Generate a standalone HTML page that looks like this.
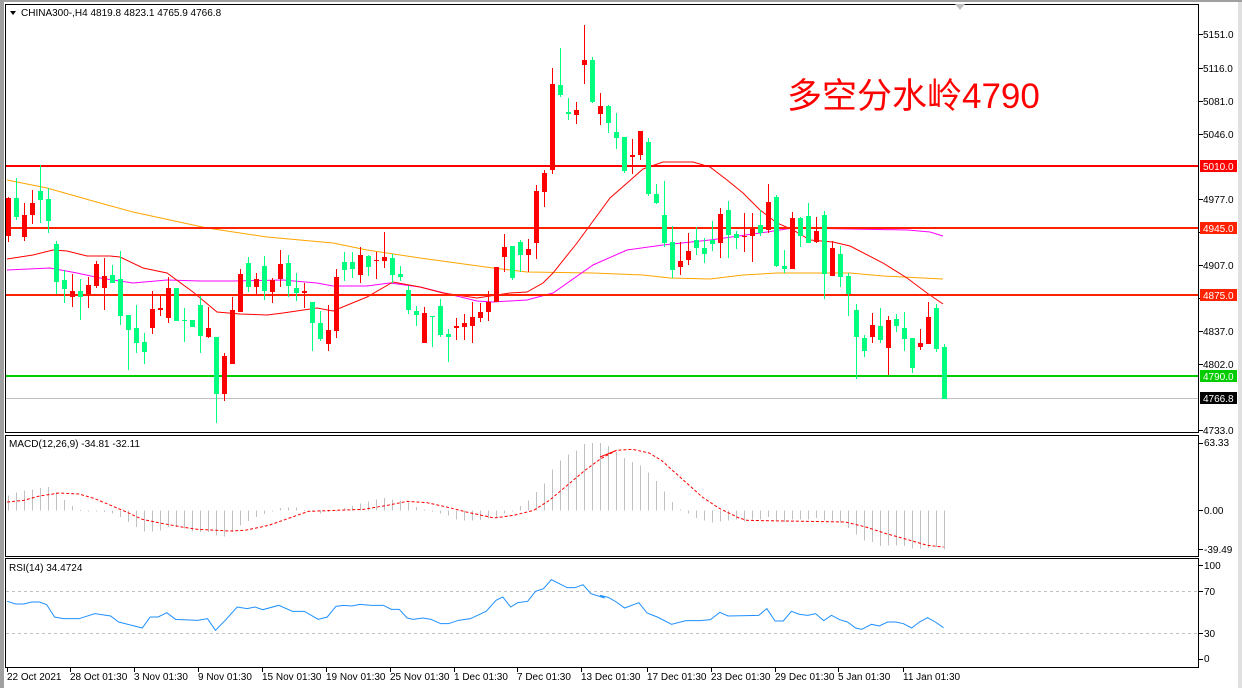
<!DOCTYPE html>
<html><head><meta charset="utf-8">
<style>
html,body{margin:0;padding:0;background:#fff;}
svg{display:block;}
text{font-family:"Liberation Sans","Noto Sans CJK SC",sans-serif;font-size:10px;fill:#000;}
</style></head>
<body>
<svg id="s" width="1242" height="688" viewBox="0 0 1242 688" xmlns="http://www.w3.org/2000/svg">
<rect x="0" y="0" width="1242" height="688" fill="#fff"/>
<rect x="0" y="0" width="4" height="688" fill="#a0a0a0"/>
<rect x="1238" y="0" width="4" height="688" fill="#e0e0e0"/>
<rect x="0" y="0" width="1242" height="2" fill="#a0a0a0"/>
<g id="main"></g>
<rect x="5.5" y="4.5" width="1193" height="428" fill="none" stroke="#000"/>
<rect x="5.5" y="435.5" width="1193" height="121" fill="none" stroke="#000"/>
<rect x="5.5" y="558.5" width="1193" height="109" fill="none" stroke="#000"/>
<polygon points="955,4 965,4 960,10" fill="#c0c0c0"/>
<polygon points="10,11 16,11 13,15" fill="#000"/>
<text x="21" y="16">CHINA300-,H4  4819.8 4823.1 4765.9 4766.8</text>
<text x="9" y="447">MACD(12,26,9) -34.81 -32.11</text>
<text x="9" y="571">RSI(14) 34.4724</text>
<text x="787" y="108" style="font-size:35px;fill:#ff0000">多空分水岭4790</text>
<g id="axis"></g>
<g>
<text x="7" y="680">22 Oct 2021</text>
<text x="70" y="680">28 Oct 01:30</text>
<text x="134" y="680">3 Nov 01:30</text>
<text x="198" y="680">9 Nov 01:30</text>
<text x="262" y="680">15 Nov 01:30</text>
<text x="326" y="680">19 Nov 01:30</text>
<text x="390" y="680">25 Nov 01:30</text>
<text x="454" y="680">1 Dec 01:30</text>
<text x="517" y="680">7 Dec 01:30</text>
<text x="581" y="680">13 Dec 01:30</text>
<text x="647" y="680">17 Dec 01:30</text>
<text x="711" y="680">23 Dec 01:30</text>
<text x="775" y="680">29 Dec 01:30</text>
<text x="838" y="680">5 Jan 01:30</text>
<text x="903" y="680">11 Jan 01:30</text>
</g>
<g id="ticks"></g>
<text x="1204" y="446">63.33</text>
<text x="1204" y="514">0.00</text>
<text x="1204" y="553">-39.49</text>
<text x="1204" y="569">100</text>
<text x="1204" y="595">70</text>
<text x="1204" y="637">30</text>
<text x="1204" y="662">0</text>
<rect x="1200" y="160" width="37" height="12" fill="#ff0000"/>
<text x="1203" y="170" style="fill:#fff">5010.0</text>
<rect x="1200" y="222" width="37" height="12" fill="#ff2200"/>
<text x="1203" y="232" style="fill:#fff">4945.0</text>
<rect x="1200" y="289" width="37" height="12" fill="#ff2200"/>
<text x="1203" y="299" style="fill:#fff">4875.0</text>
<rect x="1200" y="370" width="37" height="12" fill="#00cc00"/>
<text x="1203" y="380" style="fill:#fff">4790.0</text>
<rect x="1200" y="392" width="37" height="12" fill="#000"/>
<text x="1203" y="402" style="fill:#fff">4766.8</text>
<text x="1203" y="38">5151.0</text>
<text x="1203" y="72">5116.0</text>
<text x="1203" y="105">5081.0</text>
<text x="1203" y="138">5046.0</text>
<text x="1203" y="203">4977.0</text>
<text x="1203" y="269">4907.0</text>
<text x="1203" y="335">4837.0</text>
<text x="1203" y="368">4802.0</text>
<text x="1203" y="434">4733.0</text>
</svg>
<script>
var NS="http://www.w3.org/2000/svg";
function el(p,t,a){var e=document.createElementNS(NS,t);for(var k in a)e.setAttribute(k,a[k]);p.appendChild(e);return e;}
var g=document.getElementById("main");
var ax=document.getElementById("axis");
[34,68,101,134,199,232,265,298,331,364,430].forEach(function(y){el(ax,"line",{x1:1199,x2:1203,y1:y+0.5,y2:y+0.5,stroke:"#000"});});
[443,510,549].forEach(function(y){el(ax,"line",{x1:1199,x2:1203,y1:y+0.5,y2:y+0.5,stroke:"#000"});});
[565,591,633,659].forEach(function(y){el(ax,"line",{x1:1199,x2:1203,y1:y+0.5,y2:y+0.5,stroke:"#000"});});
var tk=document.getElementById("ticks");
[7,70,134,198,262,326,390,454,517,581,647,711,775,838,903].forEach(function(x){el(tk,"line",{x1:x+0.5,x2:x+0.5,y1:668,y2:672,stroke:"#000"});});
function pl(pts,st,w,da){el(g,"polyline",{points:pts.map(function(p){return p[0]+","+p[1]}).join(" "),fill:"none",stroke:st,"stroke-width":w||1,"stroke-dasharray":da||"none"});}
el(g,"line",{x1:6,x2:1198,y1:398.5,y2:398.5,stroke:"#c0c0c0"});
pl([[7,180],[47,188],[100,203],[133,212],[207,228],[267,237],[333,243],[367,250],[420,258],[493,268],[527,272],[593,273],[643,275],[670,278],[710,279],[743,275],[777,273],[830,273],[850,273],[883,276],[923,278],[943,279]],"#ffa500");
pl([[7,270],[50,268],[77,273],[100,278],[133,283],[167,280],[200,281],[233,281],[283,280],[317,283],[333,286],[367,286],[390,283],[420,287],[477,301],[493,302],[527,300],[553,293],[593,265],[627,250],[663,245],[710,240],[760,233],[793,228],[850,229],[908,230],[930,232],[943,236]],"#ff00ff");
pl([[7,259],[33,255],[53,250],[67,251],[87,256],[110,256],[120,257],[143,268],[167,273],[193,292],[217,312],[240,314],[267,315],[283,313],[317,308],[333,311],[367,297],[393,282],[420,287],[443,293],[477,298],[510,293],[527,292],[543,283],[553,273],[577,243],[610,198],[643,169],[663,162],[693,162],[710,167],[727,180],[743,193],[760,210],[777,223],[793,230],[810,240],[833,242],[850,246],[883,263],[907,278],[927,293],[943,304]],"#ff0000");
el(g,"rect",{x:6,y:165,width:1193,height:2,fill:"#ff0000"});
el(g,"rect",{x:6,y:227,width:1193,height:2,fill:"#ff2200"});
el(g,"rect",{x:6,y:294,width:1193,height:2,fill:"#ff2200"});
el(g,"rect",{x:6,y:375,width:1193,height:2,fill:"#00cc00"});
var C=[[1,197,198,236,242],[0,178,198,217,220],[1,203,215,237,241],[1,190,203,215,224],[0,165,191,200,223],[0,188,199,221,233],
[0,241,244,282,294],[0,270,280,289,303],[1,274,291,297,307],[0,279,291,297,320],[1,277,285,294,308],[1,261,264,286,288],
[1,258,276,288,310],[0,265,275,283,283],[0,251,279,316,325],[0,315,315,330,370],[0,305,328,343,353],[0,333,342,352,364],
[1,291,309,328,334],[1,296,308,310,316],[1,277,288,318,323],[0,288,288,321,321],[0,308,320,321,342],[0,320,320,327,327],
[0,296,305,336,353],[1,307,328,337,338],[0,337,337,394,423],[1,353,356,394,401],[1,297,310,364,364],[1,269,274,312,312],
[0,257,263,287,292],[1,273,279,287,294],[0,256,266,291,300],[1,278,280,292,303],[1,250,264,279,287],[0,255,263,286,297],
[0,273,288,293,301],[1,283,291,293,308],[0,302,302,323,351],[0,311,323,339,341],[1,305,330,344,351],[1,269,277,331,338],
[0,252,262,270,281],[0,252,262,269,278],[1,247,255,275,283],[0,255,256,267,276],[1,252,260,261,279],[1,232,257,261,268],
[0,254,258,275,283],[0,266,274,277,281],[0,286,290,310,314],[0,306,311,315,326],[1,307,313,343,343],[0,316,316,317,347],
[0,299,306,335,337],[0,329,334,337,362],[1,318,326,328,340],[1,314,323,327,340],[1,302,317,326,343],[1,303,312,318,322],
[1,291,302,312,321],[1,267,267,302,302],[1,234,247,257,272],[0,246,246,278,280],[0,240,242,255,272],[1,239,249,255,272],
[1,185,191,243,259],[1,170,173,192,207],[1,68,84,170,174],[0,48,85,95,97],[0,98,112,114,120],[1,102,110,115,124],
[1,25,60,65,84],[0,57,60,102,103],[1,93,106,114,125],[0,105,106,123,133],[0,113,132,138,149],[0,137,137,171,173],
[1,139,155,157,174],[1,131,131,155,160],[0,138,142,194,196],[0,184,194,203,204],[0,181,215,243,247],[0,226,242,270,278],
[1,242,261,267,275],[1,233,251,260,265],[0,227,240,248,255],[0,238,248,254,263],[0,221,240,244,251],[1,208,214,243,258],
[0,201,210,235,258],[0,231,234,238,249],[1,213,236,237,252],[1,213,229,236,262],[0,210,225,233,236],[1,184,202,230,233],
[0,195,197,266,267],[0,250,266,269,273],[1,212,218,269,269],[0,217,218,236,247],[0,203,216,243,243],[1,217,231,242,243],
[0,211,215,274,299],[1,241,248,276,276],[0,246,254,277,287],[0,273,276,294,316],[0,304,310,337,379],[0,335,338,351,357],
[1,313,325,337,343],[0,308,326,340,343],[1,316,320,348,375],[0,314,319,326,332],[0,312,328,339,351],[0,338,338,368,373],
[1,329,343,347,350],[1,302,317,344,344],[0,304,308,349,352],[0,344,347,399,399]];
var cg=el(g,"g",{"shape-rendering":"crispEdges"});
C.forEach(function(c,i){var x=8+8*i;var col=c[0]?"#ff0000":"#00ff7f";
el(cg,"rect",{x:x,y:c[1],width:1,height:Math.max(1,c[4]-c[1]),fill:col});
el(cg,"rect",{x:x-2,y:c[2],width:5,height:Math.max(1,c[3]-c[2]),fill:col});});
var H=[190,182,176,172,168,165,180,204,222,234,236,238,240,245,255,270,285,298,298,295,285,285,290,298,300,300,310,314,300,280,267,255,246,238,228,226,226,234,236,244,240,236,228,222,214,208,203,198,202,205,212,225,232,236,244,250,262,265,265,264,260,255,245,235,222,205,180,155,112,85,68,55,36,33,33,
42,60,78,90,100,122,147,178,210,232,245,258,265,272,268,265,262,268,262,262,255,264,270,262,262,262,258,265,266,272,288,308,326,330,342,340,340,342,350,350,348,345,352];
var z=510.7;
var hg=el(g,"g",{"shape-rendering":"crispEdges"});
H.forEach(function(v,i){var x=8+8*i;var y=432+v/3;var t=Math.min(y,z),b=Math.max(y,z);
el(hg,"rect",{x:x,y:t,width:1,height:Math.max(1,b-t),fill:"#c0c0c0"});});
var S4=[[18,210],[60,205],[100,192],[150,183],[200,186],[240,200],[280,220],[320,240],[360,262],[400,272],[460,285],[500,292],[580,297],[620,295],[680,280],[740,255],[780,238],[850,235],[920,232],[980,220],[1030,208],[1080,212],[1130,225],[1180,240],[1250,258],[1300,250],[1350,235],[1390,205],[1430,165],[1480,115],[1520,80],[1560,55]].map(function(p){return [p[0]/2.53,432+p[1]/3]});
var S5=[[0,75],[40,55],[80,52],[120,63],[150,85],[200,140],[250,195],[290,228],[340,258],[360,265],[600,270],[650,285],[700,305],[750,322],[800,340],[840,345]].map(function(p){return [600+p[0]/2.445,432+p[1]/3]});
pl(S4.concat(S5),"#ff0000",1,"3,2");
el(g,"line",{x1:6,x2:1198,y1:591.5,y2:591.5,stroke:"#c0c0c0","stroke-dasharray":"3,3"});
el(g,"line",{x1:6,x2:1198,y1:633.5,y2:633.5,stroke:"#c0c0c0","stroke-dasharray":"3,3"});
var R4=[[18,508],[40,516],[60,516],[80,510],[100,510],[118,518],[138,555],[160,560],[200,560],[240,545],[280,552],[300,570],[340,582],[360,588],[380,555],[400,555],[422,542],[444,562],[500,565],[525,560],[545,595],[570,565],[600,525],[625,530],[645,525],[665,533],[705,520],[740,538],[770,538],[805,562],[828,555],[850,523],[870,520],[890,522],[910,517],[940,520],[970,520],[990,532],[1010,532],[1030,558],[1045,562],[1070,558],[1090,562],[1115,575],[1135,575],[1160,565],[1190,560],[1230,538],[1255,505],[1272,495],[1292,525],[1310,512],[1335,508],[1355,478],[1375,470],[1395,443],[1415,455],[1435,467],[1455,467],[1475,458],[1495,485],[1530,498]].map(function(p){return [p[0]/2.53,432+p[1]/3]});
var R5=[[0,490],[20,496],[40,510],[60,528],[95,512],[115,543],[140,555],[175,577],[210,566],[245,566],[270,563],[293,541],[313,552],[388,550],[408,530],[428,567],[448,567],[468,538],[488,547],[508,550],[527,545],[547,566],[566,550],[586,563],[605,570],[625,588],[640,592],[664,577],[683,582],[703,570],[723,570],[742,575],[762,588],[781,570],[801,557],[820,570],[840,587]].map(function(p){return [600+p[0]/2.445,432+p[1]/3]});
pl(R4.concat(R5),"#1e90ff");
</script>
</body></html>
